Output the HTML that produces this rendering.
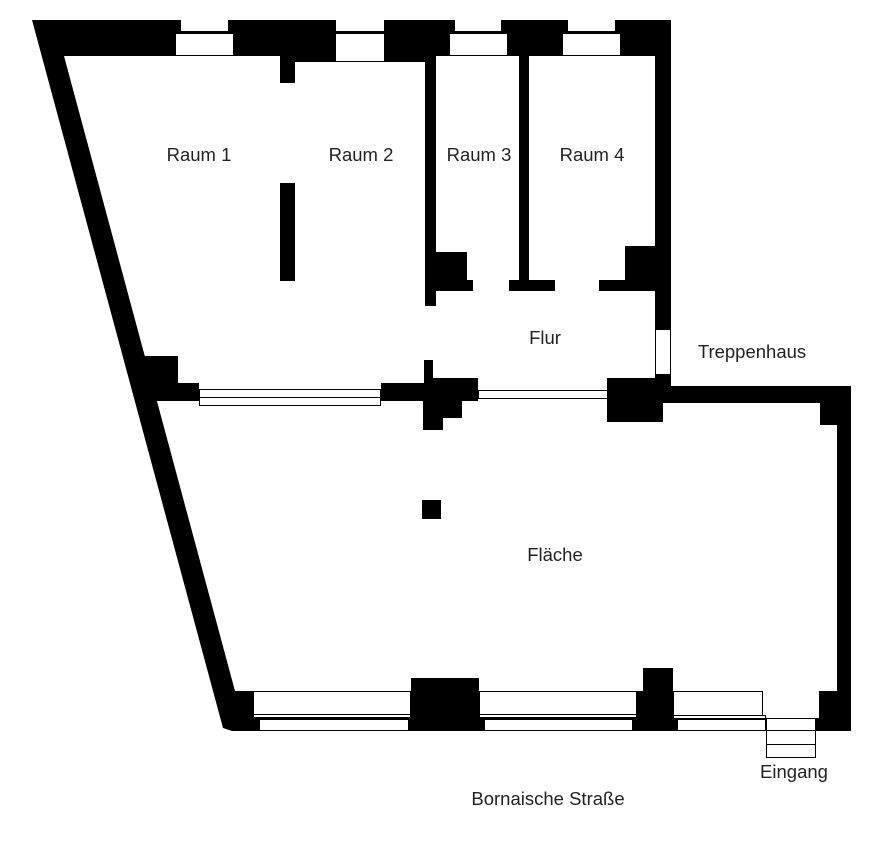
<!DOCTYPE html>
<html><head><meta charset="utf-8"><style>
html,body{margin:0;padding:0;background:#fff;}
svg{display:block;}
text{font-family:"Liberation Sans",sans-serif;font-size:18.5px;fill:#222;text-anchor:middle;}
</style></head><body>
<svg width="879" height="847" viewBox="0 0 879 847" xmlns="http://www.w3.org/2000/svg">
<g fill="#000">
<rect x="70" y="20" width="601" height="36"/>
<rect x="280" y="56" width="145" height="6"/>
<polygon points="32,20 80,20 80,56 64,56 235,691 254,691 254,731 232,731 223,728"/>
<rect x="280" y="56" width="15" height="27"/>
<rect x="280" y="183" width="15" height="98"/>
<rect x="425" y="56" width="11" height="250"/>
<rect x="436" y="252" width="31" height="30"/>
<rect x="436" y="280" width="37" height="11"/>
<rect x="519" y="56" width="10" height="235"/>
<rect x="509" y="280" width="46" height="11"/>
<rect x="655" y="20" width="16" height="366"/>
<rect x="625" y="246" width="30" height="35"/>
<rect x="599" y="280" width="56" height="11"/>
<rect x="607" y="378" width="56" height="44"/>
<rect x="663" y="386" width="188" height="17"/>
<rect x="820" y="386" width="31" height="39"/>
<rect x="837" y="386" width="14" height="345"/>
<polygon points="140,356 178,356 178,383 199,383 199,401 150,401"/>
<rect x="381" y="383" width="43" height="18"/>
<rect x="424" y="360" width="9" height="20"/>
<rect x="424" y="378" width="54" height="23"/>
<rect x="423" y="401" width="39" height="17"/>
<rect x="423" y="418" width="20" height="12"/>
<rect x="422" y="500" width="19" height="19"/>
<rect x="232" y="691" width="531" height="40"/>
<rect x="411" y="678" width="68" height="53"/>
<rect x="643" y="668" width="30" height="23"/>
<rect x="819" y="691" width="32" height="40"/>
<rect x="815" y="718" width="6" height="13"/>
</g>
<g fill="#fff" stroke="#000" stroke-width="1">
<rect x="181" y="20" width="47" height="11" stroke="none"/>
<rect x="175.5" y="33.5" width="58" height="22"/>
<rect x="336" y="20" width="48" height="11" stroke="none"/>
<rect x="335.5" y="33.5" width="49" height="28"/>
<rect x="455" y="20" width="46" height="11" stroke="none"/>
<rect x="449.5" y="33.5" width="58" height="22"/>
<rect x="568" y="20" width="47" height="11" stroke="none"/>
<rect x="562.5" y="33.5" width="58" height="22"/>
<rect x="655.5" y="329.5" width="15" height="45"/>
<rect x="199.5" y="389.5" width="181" height="8"/>
<rect x="199.5" y="397.5" width="181" height="8"/>
<rect x="478.5" y="390.5" width="129" height="8"/>
<rect x="253.5" y="691.5" width="157" height="23"/>
<rect x="253.5" y="714.5" width="157" height="3"/>
<rect x="259.5" y="719.5" width="149" height="11"/>
<rect x="479.5" y="691.5" width="157" height="23"/>
<rect x="479.5" y="714.5" width="157" height="3"/>
<rect x="484.5" y="719.5" width="148" height="11"/>
<rect x="673.5" y="691.5" width="89" height="24"/>
<rect x="673.5" y="715.5" width="92" height="3"/>
<rect x="677.5" y="719.5" width="88" height="11"/>
<rect x="766.5" y="718.5" width="49" height="12"/>
<rect x="766.5" y="730.5" width="49" height="14"/>
<rect x="766.5" y="744.5" width="49" height="13"/>
</g>
<text x="199" y="161">Raum 1</text>
<text x="361" y="161">Raum 2</text>
<text x="479" y="161">Raum 3</text>
<text x="592" y="161">Raum 4</text>
<text x="545" y="344">Flur</text>
<text x="752" y="358">Treppenhaus</text>
<text x="555" y="561">Fläche</text>
<text x="794" y="778">Eingang</text>
<text x="548" y="805">Bornaische Straße</text>
</svg>
</body></html>
